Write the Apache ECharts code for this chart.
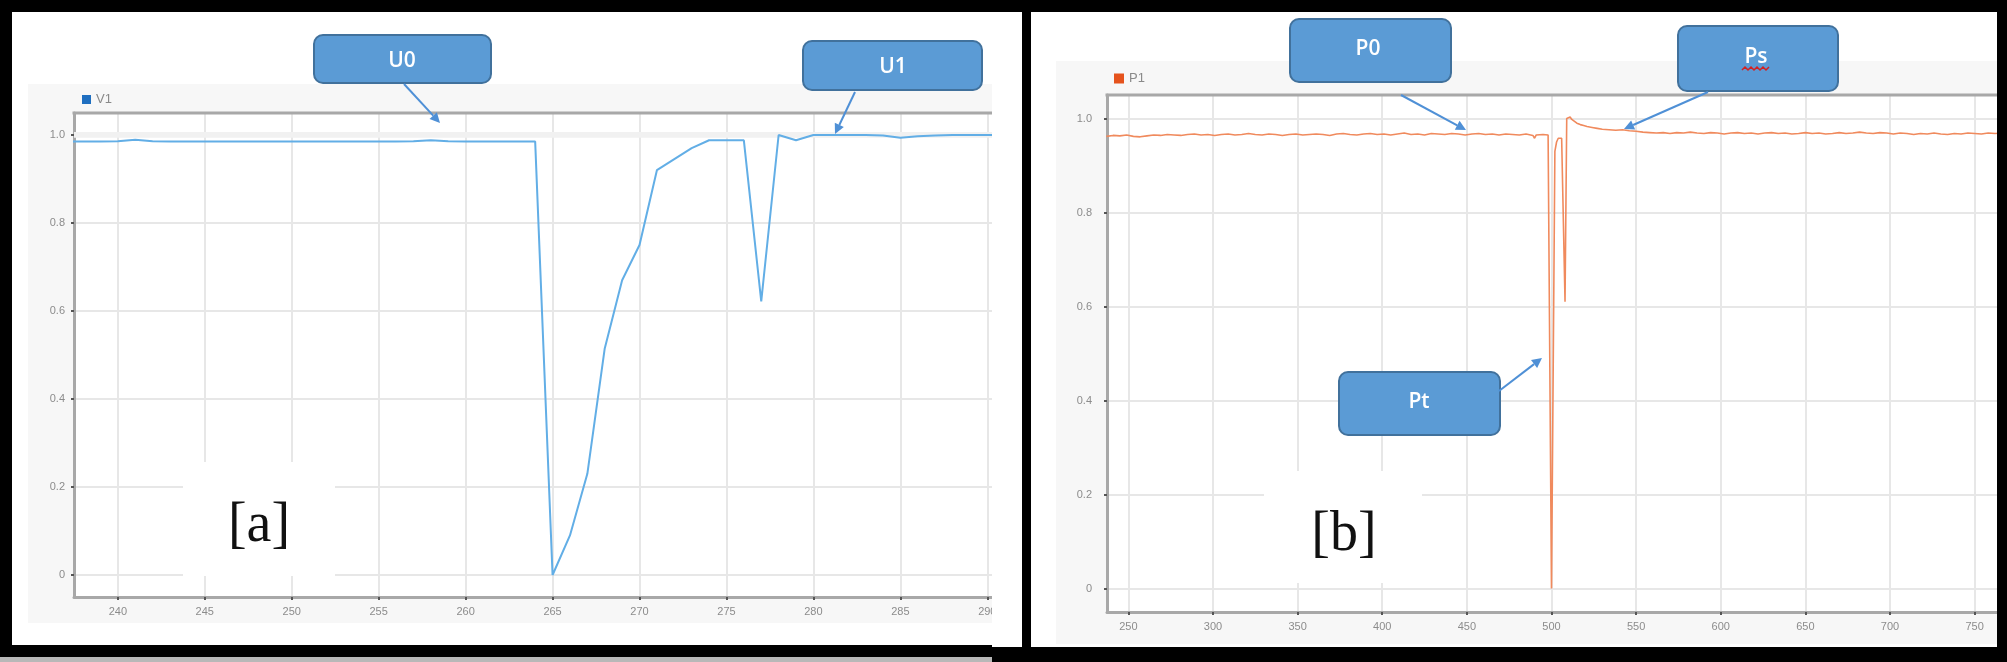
<!DOCTYPE html>
<html><head><meta charset="utf-8">
<script src="https://cdn.jsdelivr.net/npm/echarts@6/dist/echarts.min.js"></script>
<style>html,body{margin:0;padding:0;background:#fff;}#c{width:2007px;height:662px;}</style>
</head><body><div id="c"></div>
<script>
// ---- Panel [a] : V1 ----
const v1Time = [237,238,239,240,241,242,243,244,245,246,247,248,249,250,251,252,253,254,255,256,257,258,259,260,261,262,263,264,265,266,267,268,269,270,271,272,273,274,275,276,277,278,279,280,281,282,283,284,285,286,287,288,289,290,291];
const v1Value = [0.985,0.985,0.985,0.986,0.989,0.986,0.985,0.985,0.985,0.985,0.985,0.985,0.985,0.985,0.985,0.985,0.985,0.985,0.985,0.985,0.986,0.988,0.986,0.985,0.985,0.985,0.985,0.985,0,0.09,0.23,0.515,0.67,0.75,0.92,0.945,0.97,0.988,0.988,0.988,0.622,1.0,0.988,1.0,1.0,1.0,1.0,0.999,0.994,0.997,0.999,1.0,1.0,1.0,1.0];
const v1Ticks = [240,245,250,255,260,265,270,275,280,285,290];

// ---- Panel [b] : P1 ----
const p1Time = [237,241,245,249,253,257,261,265,269,273,277,281,285,289,293,297,301,305,309,313,317,321,325,329,333,337,341,345,349,353,357,361,365,369,373,377,381,385,389,393,397,401,405,409,413,417,421,425,429,433,437,441,445,449,453,457,461,465,469,473,477,481,485,489,490,491,495,498,499,500,502,503,504,505,506,507,508,509,510,511,512,513,515,517,519,521,524,527,530,534,538,542,546,550,554,558,562,566,570,574,578,582,586,590,594,598,602,606,610,614,618,622,626,630,634,638,642,646,650,654,658,662,666,670,674,678,682,686,690,694,698,702,706,710,714,718,722,726,730,734,738,742,746,750,754,758,762,766];
const p1Value = [0.962,0.964,0.963,0.965,0.962,0.961,0.963,0.965,0.964,0.966,0.965,0.964,0.966,0.967,0.965,0.966,0.964,0.966,0.967,0.965,0.966,0.968,0.966,0.965,0.967,0.966,0.964,0.966,0.967,0.965,0.966,0.967,0.966,0.964,0.967,0.968,0.966,0.965,0.967,0.968,0.966,0.967,0.965,0.967,0.969,0.966,0.967,0.965,0.968,0.967,0.966,0.968,0.967,0.965,0.967,0.968,0.966,0.967,0.965,0.967,0.966,0.965,0.967,0.964,0.958,0.965,0.966,0.965,0.963,0,0.93,0.95,0.958,0.96,0.958,0.956,0.61,1.0,1.004,1.003,0.998,0.994,0.99,0.987,0.985,0.983,0.981,0.979,0.977,0.976,0.975,0.976,0.974,0.973,0.971,0.970,0.969,0.970,0.968,0.970,0.969,0.971,0.969,0.968,0.970,0.969,0.967,0.969,0.970,0.968,0.969,0.967,0.969,0.970,0.968,0.969,0.967,0.968,0.970,0.968,0.969,0.967,0.968,0.970,0.968,0.969,0.971,0.969,0.968,0.970,0.969,0.967,0.969,0.968,0.966,0.968,0.967,0.969,0.967,0.966,0.968,0.967,0.969,0.968,0.967,0.969,0.968,0.969];
const p1Ticks = [250,300,350,400,450,500,550,600,650,700,750];

const yTicks = [0,0.2,0.4,0.6,0.8,1.0];

const AXIS_GRAY = '#a8a8a8', GRID_GRAY = '#e7e7e7', LABEL_GRAY = '#8c8c8c';
const yFmt = v => v === 0 ? '0' : v.toFixed(1);

function xAxisCfg(gi, min, max, ticks) {
  return {
    type: 'value', gridIndex: gi, min: min, max: max, splitNumber: 10,
    axisLine: { show: true, onZero: false, lineStyle: { color: AXIS_GRAY, width: 3 } },
    axisTick: { show: true, customValues: ticks, length: 3, lineStyle: { color: '#555', width: 2 } },
    axisLabel: { customValues: ticks, color: LABEL_GRAY, fontSize: 11, margin: 9, fontFamily: 'Liberation Sans' },
    splitLine: { show: true, lineStyle: { color: GRID_GRAY, width: 2 } }
  };
}
function yAxisCfg(gi, margin) {
  return {
    type: 'value', gridIndex: gi, min: -0.05, max: 1.05, splitNumber: 5,
    axisLine: { show: true, onZero: false, lineStyle: { color: AXIS_GRAY, width: 3 } },
    axisTick: { show: true, customValues: yTicks, length: 3, lineStyle: { color: '#555', width: 2 } },
    axisLabel: { customValues: yTicks, formatter: yFmt, color: LABEL_GRAY, fontSize: 11, margin: margin, fontFamily: 'Liberation Sans' },
    splitLine: { show: true, lineStyle: { color: GRID_GRAY, width: 2 } }
  };
}

function arrow(x1, y1, x2, y2) {
  const color = '#4f90d6';
  const a = Math.atan2(y2 - y1, x2 - x1), L = 10, W = 5;
  const bx = x2 - L * Math.cos(a), by = y2 - L * Math.sin(a);
  const px = -Math.sin(a) * W, py = Math.cos(a) * W;
  return [
    { type: 'line', shape: { x1: x1, y1: y1, x2: bx, y2: by }, style: { stroke: color, lineWidth: 2 }, z: 100 },
    { type: 'polygon', shape: { points: [[x2, y2], [bx + px, by + py], [bx - px, by - py]] }, style: { fill: color }, z: 100 }
  ];
}
function callout(x, y, w, h, label, tx, ty) {
  return [
    { type: 'rect', shape: { x: x, y: y, width: w, height: h, r: 9 }, style: { fill: '#5b9bd5', stroke: '#41719c', lineWidth: 2 }, z: 100 },
    { type: 'text', x: tx, y: ty, style: { text: label, fill: '#ffffff', font: '600 21px "Open Sans"', align: 'center', verticalAlign: 'middle', textAlign: 'center', textVerticalAlign: 'middle' }, z: 101 }
  ];
}
function rect(x, y, w, h, fill, z) {
  return { type: 'rect', shape: { x: x, y: y, width: w, height: h }, style: { fill: fill }, z: z, silent: true };
}
function bigText(label, x, y) {
  return { type: 'text', x: x, y: y, style: { text: label, fill: '#111', font: '56px "Liberation Serif"', align: 'center', verticalAlign: 'middle', textAlign: 'center', textVerticalAlign: 'middle' }, z: 102 };
}

const graphics = [].concat(
  // chart backgrounds
  [rect(28, 84, 964, 539, '#f7f7f7', -5), rect(1056, 61, 941, 583, '#f7f7f7', -5)],
  // top borders of plots
  [{ type: 'line', shape: { x1: 72.5, y1: 113, x2: 992, y2: 113 }, style: { stroke: AXIS_GRAY, lineWidth: 3 }, z: 50 },
   { type: 'line', shape: { x1: 1105.5, y1: 95, x2: 1997, y2: 95 }, style: { stroke: AXIS_GRAY, lineWidth: 3 }, z: 50 }],
  // white clip strip right of panel a
  [rect(992, 10, 30, 640, '#ffffff', 90)],
  // label boxes
  [rect(183, 462, 152, 114, '#ffffff', 95), rect(1264, 471, 158, 112, '#ffffff', 95)],
  [bigText('[a]', 259, 526), bigText('[b]', 1344, 535)],
  // callouts
  callout(314, 35, 177, 48, 'U0', 402, 61),
  callout(803, 41, 179, 49, 'U1', 893, 67),
  callout(1290, 19, 161, 63, 'P0', 1368, 49),
  callout(1678, 26, 160, 65, 'Ps', 1756, 57),
  callout(1339, 372, 161, 63, 'Pt', 1419, 402),
  arrow(404, 84, 440, 123),
  arrow(855, 92, 835, 134),
  arrow(1401, 95, 1466, 130),
  arrow(1708, 92, 1624, 129),
  arrow(1499, 391, 1542, 358),
  // spell-check squiggle under Ps
  [{ type: 'polyline', shape: { points: [[1742,70],[1745,67],[1748,70],[1751,67],[1754,70],[1757,67],[1760,70],[1763,67],[1766,70],[1769,67]] }, style: { stroke: '#d42020', lineWidth: 1.5, fill: null }, z: 103 }],
  // black frame
  [rect(0, 0, 2007, 12, '#000', 200), rect(0, 0, 12, 657, '#000', 200),
   rect(0, 645, 992, 12, '#000', 200), rect(0, 657, 992, 5, '#b8b8b8', 200),
   rect(992, 647, 1015, 15, '#000', 200),
   rect(1022, 0, 9, 662, '#000', 200), rect(1997, 0, 10, 662, '#000', 200)]
);

const chart = echarts.init(document.getElementById('c'), null, { renderer: 'canvas' });
chart.setOption({
  animation: false,
  backgroundColor: '#ffffff',
  grid: [
    { left: 74, top: 113, width: 918, height: 484, show: true, backgroundColor: '#ffffff', borderWidth: 0, containLabel: false },
    { left: 1107, top: 95, width: 890, height: 517, show: true, backgroundColor: '#ffffff', borderWidth: 0, containLabel: false }
  ],
  legend: [
    { data: [{ name: 'V1', itemStyle: { color: '#1f6fc0' } }], left: 77, top: 88, icon: 'rect', itemWidth: 9, itemHeight: 9, itemGap: 5, textStyle: { color: '#8a8a8a', fontSize: 13, fontFamily: 'Liberation Sans' } },
    { data: [{ name: 'P1', itemStyle: { color: '#e5531d' } }], left: 1109, top: 67, icon: 'rect', itemWidth: 10, itemHeight: 10, itemGap: 5, textStyle: { color: '#8a8a8a', fontSize: 13, fontFamily: 'Liberation Sans' } }
  ],
  xAxis: [xAxisCfg(0, 237.48, 290.27, v1Ticks), xAxisCfg(1, 237.4, 763.2, p1Ticks)],
  yAxis: [yAxisCfg(0, 9), yAxisCfg(1, 15)],
  graphic: { elements: graphics },
  series: [
    { name: 'V1', type: 'line', xAxisIndex: 0, yAxisIndex: 0, showSymbol: false, clip: true,
      data: v1Time.map((t, i) => [t, v1Value[i]]),
      lineStyle: { color: '#62aee6', width: 2 }, itemStyle: { color: '#62aee6' },
      markArea: { silent: true, itemStyle: { color: '#f1f1f1' }, data: [[{ yAxis: 0.994 }, { yAxis: 1.007 }]] } },
    { name: 'P1', type: 'line', xAxisIndex: 1, yAxisIndex: 1, showSymbol: false, clip: true,
      data: p1Time.map((t, i) => [t, p1Value[i]]),
      lineStyle: { color: '#f08a5d', width: 1.6 }, itemStyle: { color: '#f08a5d' } }
  ]
});
</script>
</body></html>
